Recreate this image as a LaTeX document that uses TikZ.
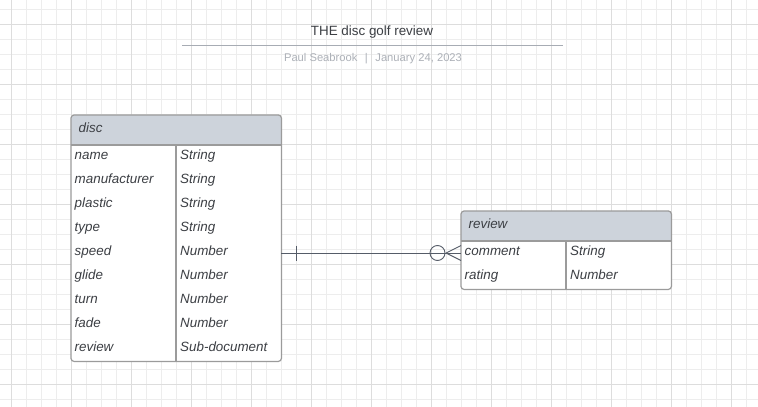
\documentclass[tikz,border=0pt]{standalone}
\usepackage{fontspec}
\setmainfont{Liberation Sans}
\usepackage{xcolor}
\definecolor{gridminor}{HTML}{EDEDED}
\definecolor{gridmajor}{HTML}{DDDDDD}
\definecolor{headfill}{HTML}{CDD3DB}
\definecolor{framegray}{HTML}{9B9B9B}
\definecolor{inkgray}{HTML}{3C3F44}
\definecolor{subgray}{HTML}{ADB1B8}
\definecolor{rulegray}{HTML}{A7ACB4}
\definecolor{linkgray}{HTML}{555C68}
\tikzset{
    entitybox/.style={fill=white,inner sep=0pt},
    tabline/.style={draw=framegray,line width=1.2pt},
    fieldtext/.style={inner sep=0pt,anchor=base west,text=inkgray,
        font=\fontsize{13.4}{16}\selectfont\itshape},
    relline/.style={draw=linkgray,line width=0.9pt},
}
\newcommand{\entity}[6] {
    % #1 name, #2 left, #3 top, #4 rows, #5 title, #6 field/type pairs
    \node[entitybox,minimum width=210,minimum height={30+24*#4},anchor=north west]
        (#1) at (#2,#3) {};
    \begin{scope}
        \clip[rounded corners=3pt] (#1.north west) rectangle (#1.south east);
        \fill[headfill] (#1.north west) rectangle ([yshift=-30pt]#1.north east);
    \end{scope}
    \draw[tabline] ([yshift=-30pt]#1.north west) -- ([yshift=-30pt]#1.north east);
    \draw[tabline] ([shift={(105pt,-30pt)}]#1.north west) -- ([xshift=105pt]#1.south west);
    \draw[tabline,rounded corners=3pt] (#1.north west) rectangle (#1.south east);
    \node[fieldtext] (#1-title) at ({#2+7.5},{#3+17.3}) {#5};
    \foreach \fname/\ftype [count=\i] in {#6} {
        \coordinate (#1-w\i) at (#2,{#3+18+24*\i});
        \coordinate (#1-e\i) at ({#2+210},{#3+18+24*\i});
        \node[fieldtext] (#1-f\i) at ({#2+3.5},{#3+20.5+24*\i}) {\fname};
        \node[fieldtext] (#1-t\i) at ({#2+109},{#3+20.5+24*\i}) {\ftype};
    }
}

\begin{document}
\begin{tikzpicture}[x=1pt,y=-1pt]
    \useasboundingbox (0,0) rectangle (758,407);
    \fill[white] (0,0) rectangle (758,407);
    % background grid
    \foreach \gx in {-4,11,...,758}
        \draw[gridminor,line width=0.8pt] (\gx,0) -- (\gx,407);
    \foreach \gy in {9.3,24.3,...,407}
        \draw[gridminor,line width=0.8pt] (0,\gy) -- (758,\gy);
    \foreach \gx in {11,71,...,758}
        \draw[gridmajor,line width=0.8pt] (\gx,0) -- (\gx,407);
    \foreach \gy in {24.3,84.3,...,407}
        \draw[gridmajor,line width=0.8pt] (0,\gy) -- (758,\gy);

    % title block
    \node[inner sep=0pt,anchor=base,text=inkgray,font=\fontsize{13.4}{16}\selectfont]
        (title) at (372,35.7) {THE disc golf review};
    \coordinate (ruleL) at (182,45.5);
    \coordinate (ruleR) at (563,45.5);
    \draw[rulegray,line width=1.3pt] (ruleL) -- (ruleR);
    \node[inner sep=0pt,anchor=base,text=subgray,font=\fontsize{11.2}{14}\selectfont]
        (byline) at (373,61) {Paul Seabrook\hspace{7.5pt}|\hspace{7.5pt}January 24, 2023};

    \entity{disc}{71}{115}{9}{disc}{name/String,manufacturer/String,plastic/String,
        type/String,speed/Number,glide/Number,turn/Number,fade/Number,review/Sub-document}
    \entity{review}{461}{211}{2}{review}{comment/String,rating/Number}

    % relation
    \draw[relline] (disc-e5) -- (review-w1);
    \draw[relline] ([xshift=15.5pt]disc-e5) ++(0,-7.5) -- ++(0,15);
    \draw[relline] ([xshift=-23.5pt]review-w1) circle[radius=7.5pt];
    \draw[relline] ([xshift=-15pt]review-w1) -- ([yshift=7.5pt]review-w1)
        ([xshift=-15pt]review-w1) -- ([yshift=-7.5pt]review-w1);
\end{tikzpicture}
\end{document}
